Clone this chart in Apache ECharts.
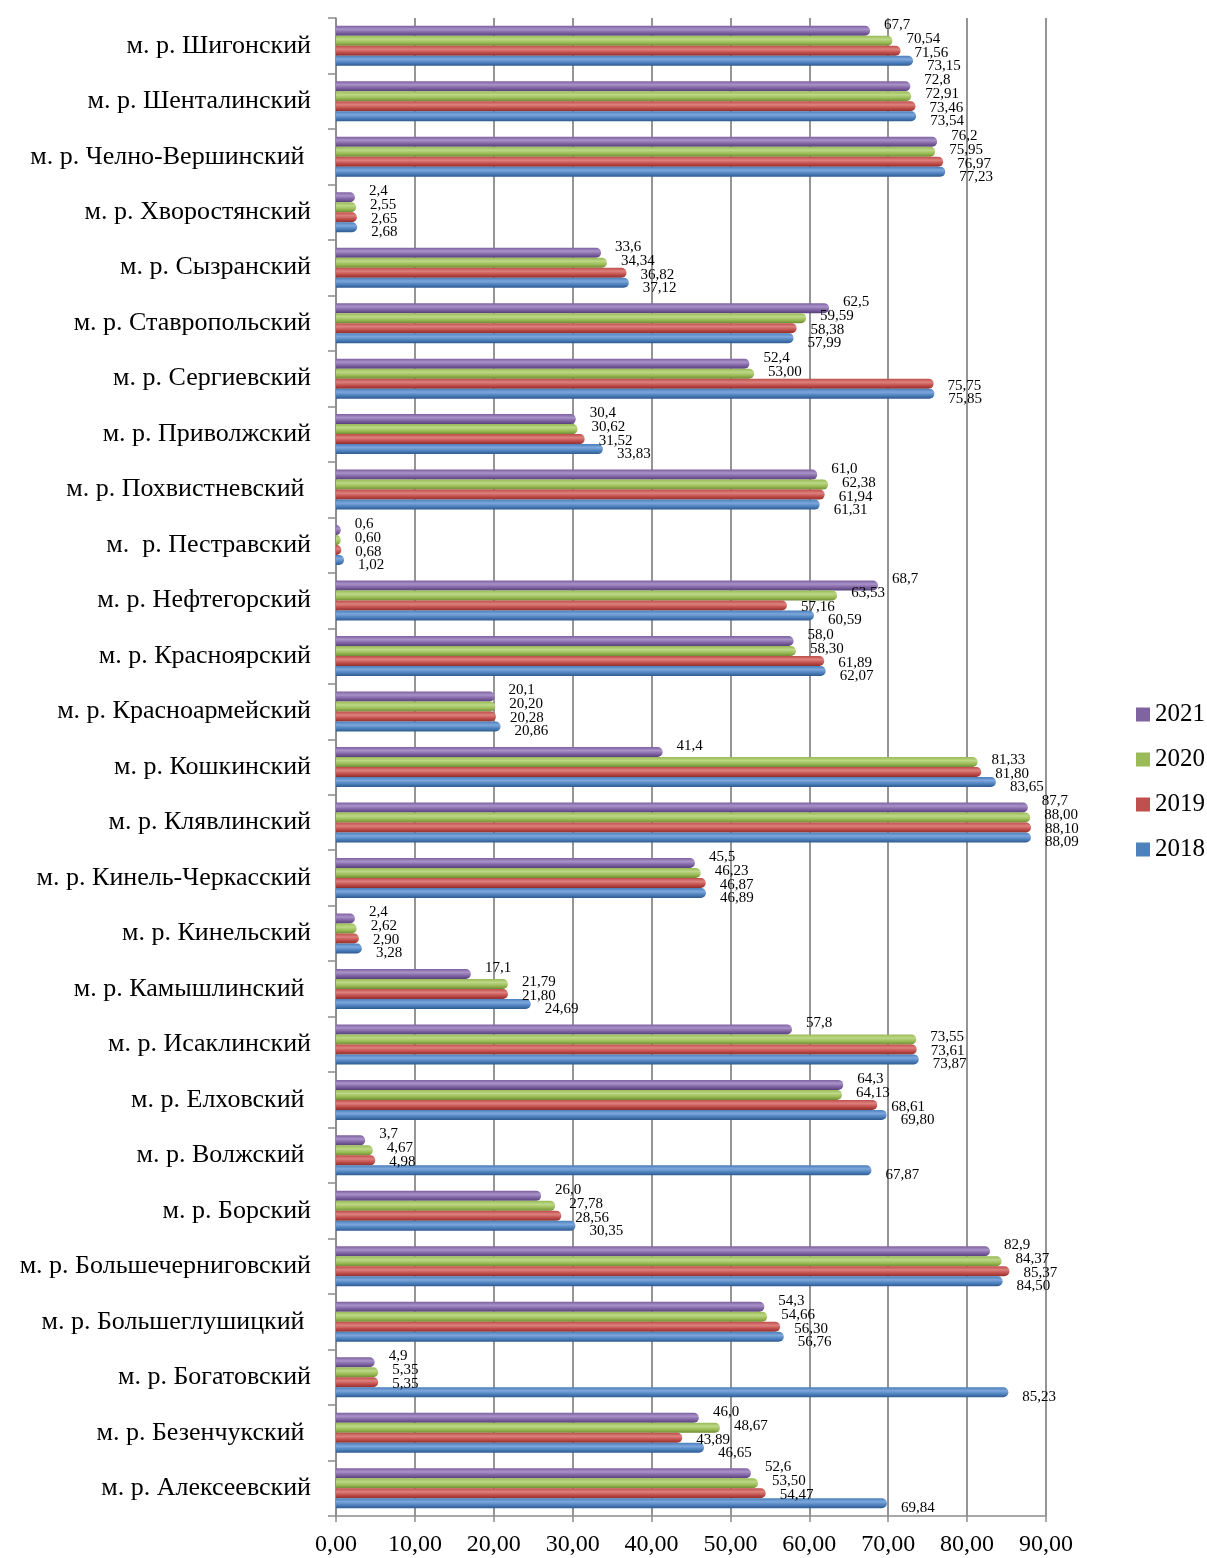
<!DOCTYPE html>
<html><head><meta charset="utf-8">
<script src="https://cdn.jsdelivr.net/npm/echarts@6/dist/echarts.min.js"></script>
<style>html,body{margin:0;padding:0;background:#fff}#c{width:1207px;height:1558px}</style>
</head><body><div id="c"></div>
<script>
const categories = ['м. р. Шигонский','м. р. Шенталинский','м. р. Челно-Вершинский ','м. р. Хворостянский','м. р. Сызранский','м. р. Ставропольский','м. р. Сергиевский','м. р. Приволжский','м. р. Похвистневский ','м.  р. Пестравский','м. р. Нефтегорский','м. р. Красноярский','м. р. Красноармейский','м. р. Кошкинский','м. р. Клявлинский','м. р. Кинель-Черкасский','м. р. Кинельский','м. р. Камышлинский ','м. р. Исаклинский','м. р. Елховский ','м. р. Волжский ','м. р. Борский','м. р. Большечерниговский','м. р. Большеглушицкий ','м. р. Богатовский','м. р. Безенчукский ','м. р. Алексеевский'];
const v2021 = [67.7,72.8,76.2,2.4,33.6,62.5,52.4,30.4,61.0,0.6,68.7,58.0,20.1,41.4,87.7,45.5,2.4,17.1,57.8,64.3,3.7,26.0,82.9,54.3,4.9,46.0,52.6];
const v2020 = [70.54,72.91,75.95,2.55,34.34,59.59,53.00,30.62,62.38,0.60,63.53,58.30,20.20,81.33,88.00,46.23,2.62,21.79,73.55,64.13,4.67,27.78,84.37,54.66,5.35,48.67,53.50];
const v2019 = [71.56,73.46,76.97,2.65,36.82,58.38,75.75,31.52,61.94,0.68,57.16,61.89,20.28,81.80,88.10,46.87,2.90,21.80,73.61,68.61,4.98,28.56,85.37,56.30,5.35,43.89,54.47];
const v2018 = [73.15,73.54,77.23,2.68,37.12,57.99,75.85,33.83,61.31,1.02,60.59,62.07,20.86,83.65,88.09,46.89,3.28,24.69,73.87,69.80,67.87,30.35,84.50,56.76,85.23,46.65,69.84];
const xTicks = [0,10,20,30,40,50,60,70,80,90];

const FONT = 'Liberation Serif';
function grad(top, mid, bot){
  return new echarts.graphic.LinearGradient(0,0,0,1,[
    {offset:0,color:top},{offset:0.35,color:mid},{offset:0.7,color:top},{offset:1,color:bot}]);
}
function mk(name, data, colors, dec, off){
  return {
    name: name, type: 'bar', data: data, barWidth: 10, barGap: '0%',
    itemStyle: {color: grad(colors[0], colors[1], colors[2]), borderRadius: [0,5,5,0]},
    label: {show: true, position: 'right', distance: 5, offset: off,
      fontFamily: FONT, fontSize: 15, color: '#000',
      formatter: p => p.value.toFixed(dec).replace('.', ',')}
  };
}
const chart = echarts.init(document.getElementById('c'));
chart.setOption({
  animation: false,
  backgroundColor: '#fff',
  legend: {
    data: [
      {name: '2021', itemStyle: {color: '#8064A2'}},
      {name: '2020', itemStyle: {color: '#9BBB59'}},
      {name: '2019', itemStyle: {color: '#C0504D'}},
      {name: '2018', itemStyle: {color: '#4F81BD'}}
    ],
    orient: 'vertical', left: 1131, top: 697,
    itemWidth: 14, itemHeight: 14, itemGap: 20, icon: 'rect',
    textStyle: {fontFamily: FONT, fontSize: 25, color: '#000'}
  },
  grid: {left: 336, right: 161, top: 18, bottom: 42, containLabel: false},
  xAxis: {
    type: 'value', min: 0, max: 90, interval: 10,
    axisLine: {show: true, lineStyle: {color: '#8c8c8c', width: 1.5}},
    axisTick: {show: true, length: 6, lineStyle: {color: '#8c8c8c', width: 1.5}},
    splitLine: {show: true, lineStyle: {color: '#959595', width: 2}},
    axisLabel: {margin: 17, fontFamily: FONT, fontSize: 24, color: '#000',
      formatter: v => xTicks.indexOf(v) >= 0 ? v.toFixed(2).replace('.', ',') : ''}
  },
  yAxis: {
    type: 'category', data: categories, inverse: true,
    axisLine: {show: true, lineStyle: {color: '#8c8c8c', width: 1.5}},
    axisTick: {show: true, length: 8, lineStyle: {color: '#8c8c8c', width: 1.5}},
    axisLabel: {margin: 25, fontFamily: FONT, fontSize: 26, color: '#000'}
  },
  series: [
    mk('2021', v2021, ['#7D60A0','#A992C8','#57417A'], 1, [9, -6]),
    mk('2020', v2020, ['#98B954','#BDD887','#6E8C33'], 2, [9, -2]),
    mk('2019', v2019, ['#BE4B48','#DD817E','#8E2F2C'], 2, [9, 2]),
    mk('2018', v2018, ['#4A7EBB','#7DA7DC','#2F5A8E'], 2, [9, 5])
  ]
});
</script></body></html>
